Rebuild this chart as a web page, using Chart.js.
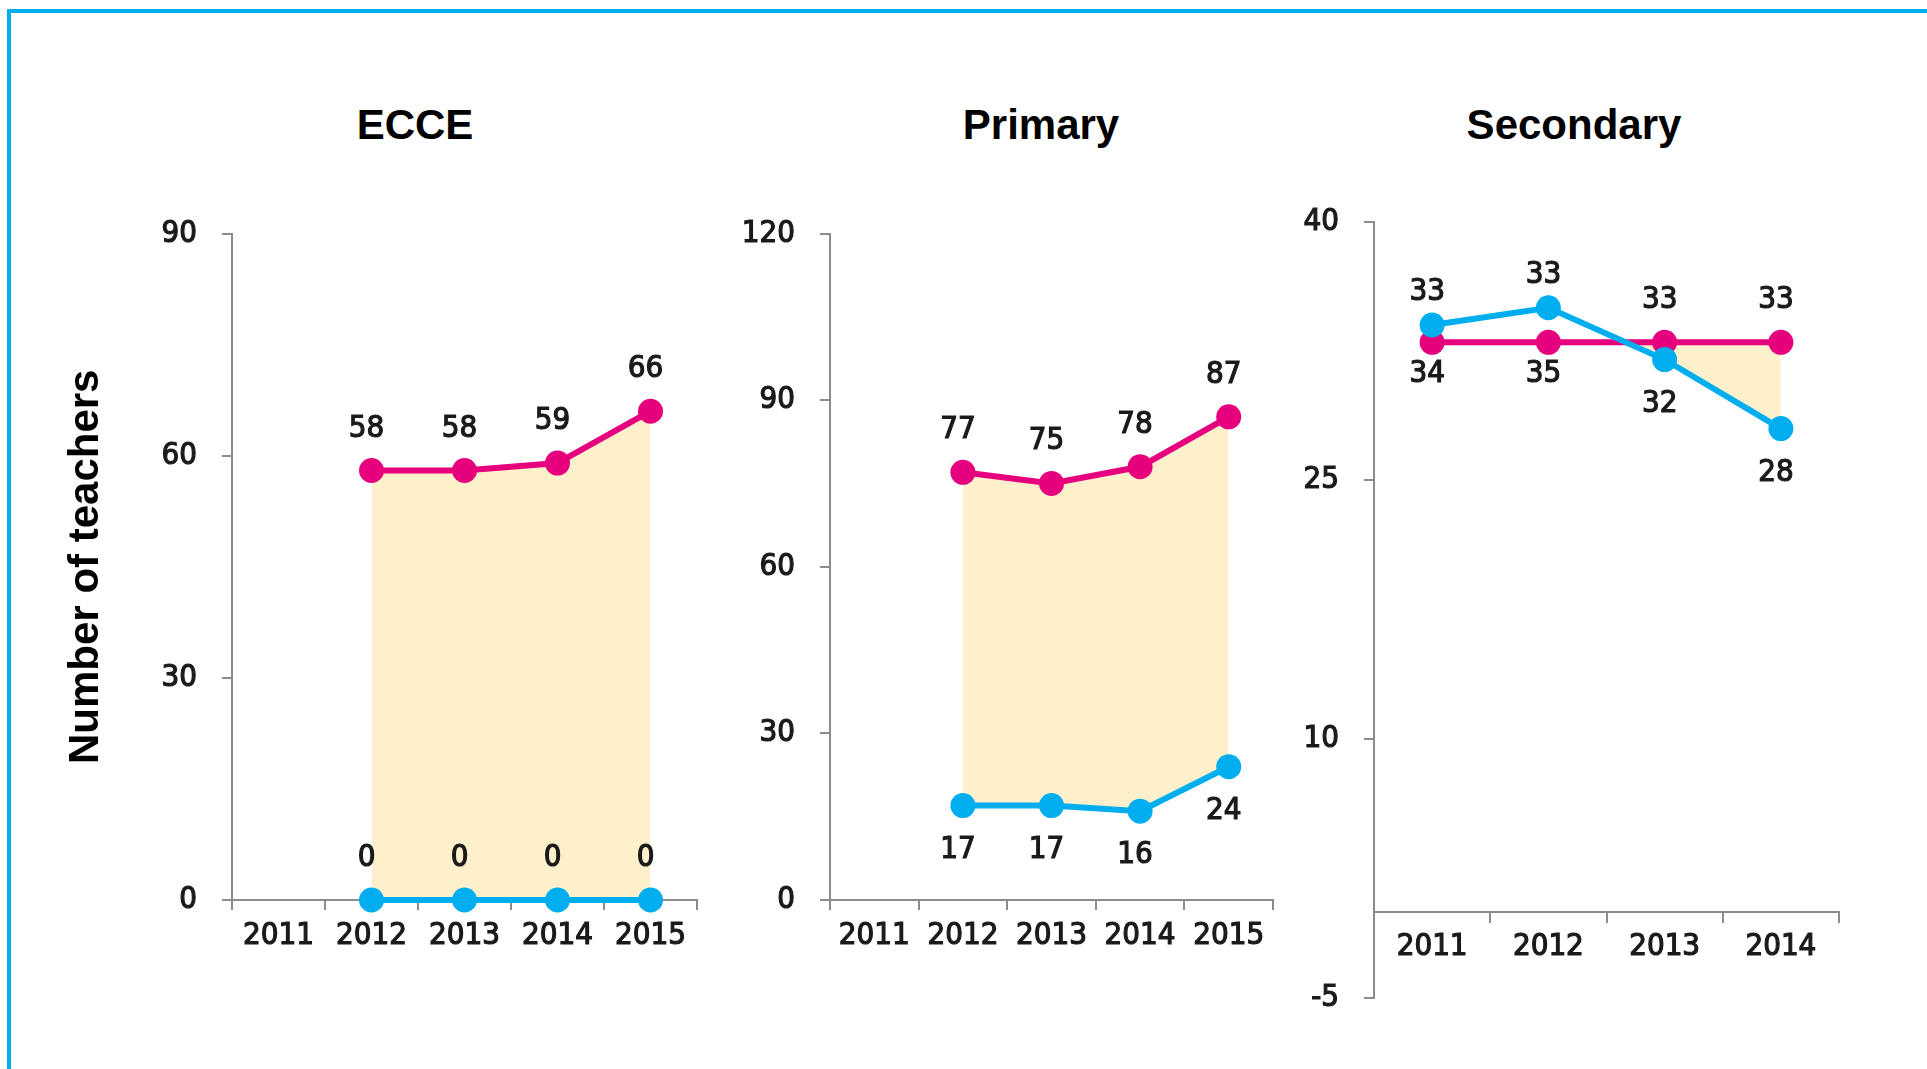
<!DOCTYPE html>
<html>
<head>
<meta charset="utf-8">
<script src="https://cdn.jsdelivr.net/npm/chart.js@4.4.1/dist/chart.umd.min.js"></script>
<style>
  html, body { margin: 0; padding: 0; background: #fff; }
  body { width: 1927px; height: 1069px; position: relative; overflow: hidden; }
  #frame { position: absolute; left: 7px; top: 9px; width: 1960px; height: 1100px;
           border-left: 4px solid #00aeef; border-top: 4px solid #00aeef; }
  canvas { position: absolute; top: 0; }
  .panel-title { position: absolute; top: 100px; transform: translateX(-50%);
                 font: bold 42px "Liberation Sans", Arial, sans-serif; line-height: 50px;
                 color: #000; white-space: nowrap; }
</style>
</head>
<body>
<div id="frame"></div>
<div class="panel-title" style="left:415px">ECCE</div>
<div class="panel-title" style="left:1041px">Primary</div>
<div class="panel-title" style="left:1574px">Secondary</div>
<canvas id="ecce" width="720" height="1069" style="left:0px"></canvas>
<canvas id="primary" width="560" height="1069" style="left:735px"></canvas>
<canvas id="secondary" width="606" height="1069" style="left:1271px"></canvas>
<script>
// categories
const yearsLong = ['2011', '2012', '2013', '2014', '2015'];
const yearsShort = ['2011', '2012', '2013', '2014'];

// series (magenta = upper line, cyan = lower line)
const ecceMagenta = [null, 58, 58, 59, 66];
const ecceCyan = [null, 0, 0, 0, 0];
const primaryMagenta = [null, 77, 75, 78, 87];
const primaryCyan = [null, 17, 17, 16, 24];
const secondaryMagenta = [33, 33, 33, 33];
const secondaryCyan = [34, 35, 32, 28];

// y tick labels
const ecceTicks = [0, 30, 60, 90];
const primaryTicks = [0, 30, 60, 90, 120];
const secondaryTicks = [-5, 10, 25, 40];

const MAGENTA = '#e6007e';
const CYAN = '#00aeef';
const FILL = '#fff0cc';
const AXIS = '#8c8c8c';
const TEXT = '#1a1a1a';
const FONT_FAMILY = '"DejaVu Sans Condensed", "DejaVu Sans", Verdana, sans-serif';
const TICK_FONT = { family: FONT_FAMILY, size: 31 };

/**
 * value labels above / below each point, nudged away from the other line
 */
const pointLabels = {
    id: 'pointLabels',
    afterDatasetsDraw(chart) {
        const ctx = chart.ctx;
        const metas = chart.data.datasets.map((d, i) => chart.getDatasetMeta(i));
        ctx.save();
        ctx.font = '31px ' + FONT_FAMILY;
        ctx.fillStyle = TEXT;
        ctx.strokeStyle = TEXT;
        ctx.lineWidth = 1.2;
        ctx.textAlign = 'center';
        ctx.textBaseline = 'middle';
        chart.data.datasets.forEach((ds, i) => {
            const other = metas[1 - i];
            metas[i].data.forEach((pt, j) => {
                const v = ds.data[j];
                if (v === null || v === undefined) return;
                const oy = other.data[j] ? other.data[j].y : NaN;
                let y;
                if (ds.labelSide === 'above') {
                    y = pt.y - 42;
                    if (oy < pt.y && pt.y - oy < 60) y = Math.min(y, oy - 33);
                } else {
                    y = pt.y + 44;
                    if (oy > pt.y && oy - pt.y < 60) y = Math.max(y, oy + 32);
                }
                ctx.strokeText(String(v), pt.x - 5, y);
                ctx.fillText(String(v), pt.x - 5, y);
            });
        });
        ctx.restore();
    }
};

function buildChart(id, labels, magenta, cyan, yTicks, cyanSide, box) {
    return new Chart(document.getElementById(id), {
        type: 'line',
        data: {
            labels: labels,
            datasets: [
                { data: cyan, borderColor: CYAN, backgroundColor: CYAN, labelSide: cyanSide,
                  fill: false, clip: false },
                { data: magenta, borderColor: MAGENTA, backgroundColor: MAGENTA, labelSide: 'above',
                  fill: { target: 0, above: FILL, below: 'rgba(0,0,0,0)' }, clip: false }
            ]
        },
        options: {
            responsive: false,
            animation: false,
            events: [],
            layout: { padding: { left: 0, right: box.padRight, top: box.plotTop, bottom: box.padBottom } },
            elements: {
                line: { borderWidth: 6, tension: 0 },
                point: { radius: 12.5, hoverRadius: 12.5, borderWidth: 0 }
            },
            plugins: {
                legend: { display: false },
                tooltip: { enabled: false },
                filler: { drawTime: 'beforeDatasetsDraw' }
            },
            scales: {
                x: {
                    offset: true,
                    position: box.xPos,
                    grid: { offset: true, drawOnChartArea: false, tickLength: 10, color: AXIS, lineWidth: 2 },
                    border: { color: AXIS, width: 2 },
                    ticks: { color: TEXT, font: TICK_FONT, padding: 7, maxRotation: 0, autoSkip: false,
                             textStrokeColor: TEXT, textStrokeWidth: 1.2 },
                    afterFit: s => { s.height = 60; }
                },
                y: {
                    min: yTicks[0],
                    max: yTicks[yTicks.length - 1],
                    afterBuildTicks: s => { s.ticks = yTicks.map(v => ({ value: v })); },
                    grid: { drawOnChartArea: false, tickLength: 10, color: AXIS, lineWidth: 2 },
                    border: { color: AXIS, width: 2 },
                    ticks: { color: TEXT, font: TICK_FONT, padding: 25,
                             textStrokeColor: TEXT, textStrokeWidth: 1.2 },
                    title: box.yTitle || { display: false },
                    afterFit: s => { s.width = box.yWidth; }
                }
            }
        },
        plugins: [pointLabels]
    });
}

buildChart('ecce', yearsLong, ecceMagenta, ecceCyan, ecceTicks, 'above', {
    plotTop: 233.5, padBottom: 109, padRight: 23, yWidth: 232, xPos: 'bottom',
    yTitle: {
        display: true, text: 'Number of teachers', color: '#000',
        font: { family: '"Liberation Sans", Arial, sans-serif', size: 42, weight: 'bold' },
        padding: { top: 61, bottom: 0 }
    }
});
buildChart('primary', yearsLong, primaryMagenta, primaryCyan, primaryTicks, 'below', {
    plotTop: 233.5, padBottom: 109, padRight: 22, yWidth: 95, xPos: 'bottom'
});
// the x axis sits on y = 0, so it takes no room at the bottom
buildChart('secondary', yearsShort, secondaryMagenta, secondaryCyan, secondaryTicks, 'below', {
    plotTop: 221.5, padBottom: 71, padRight: 38, yWidth: 103, xPos: { y: 0 }
});
</script>
</body>
</html>
